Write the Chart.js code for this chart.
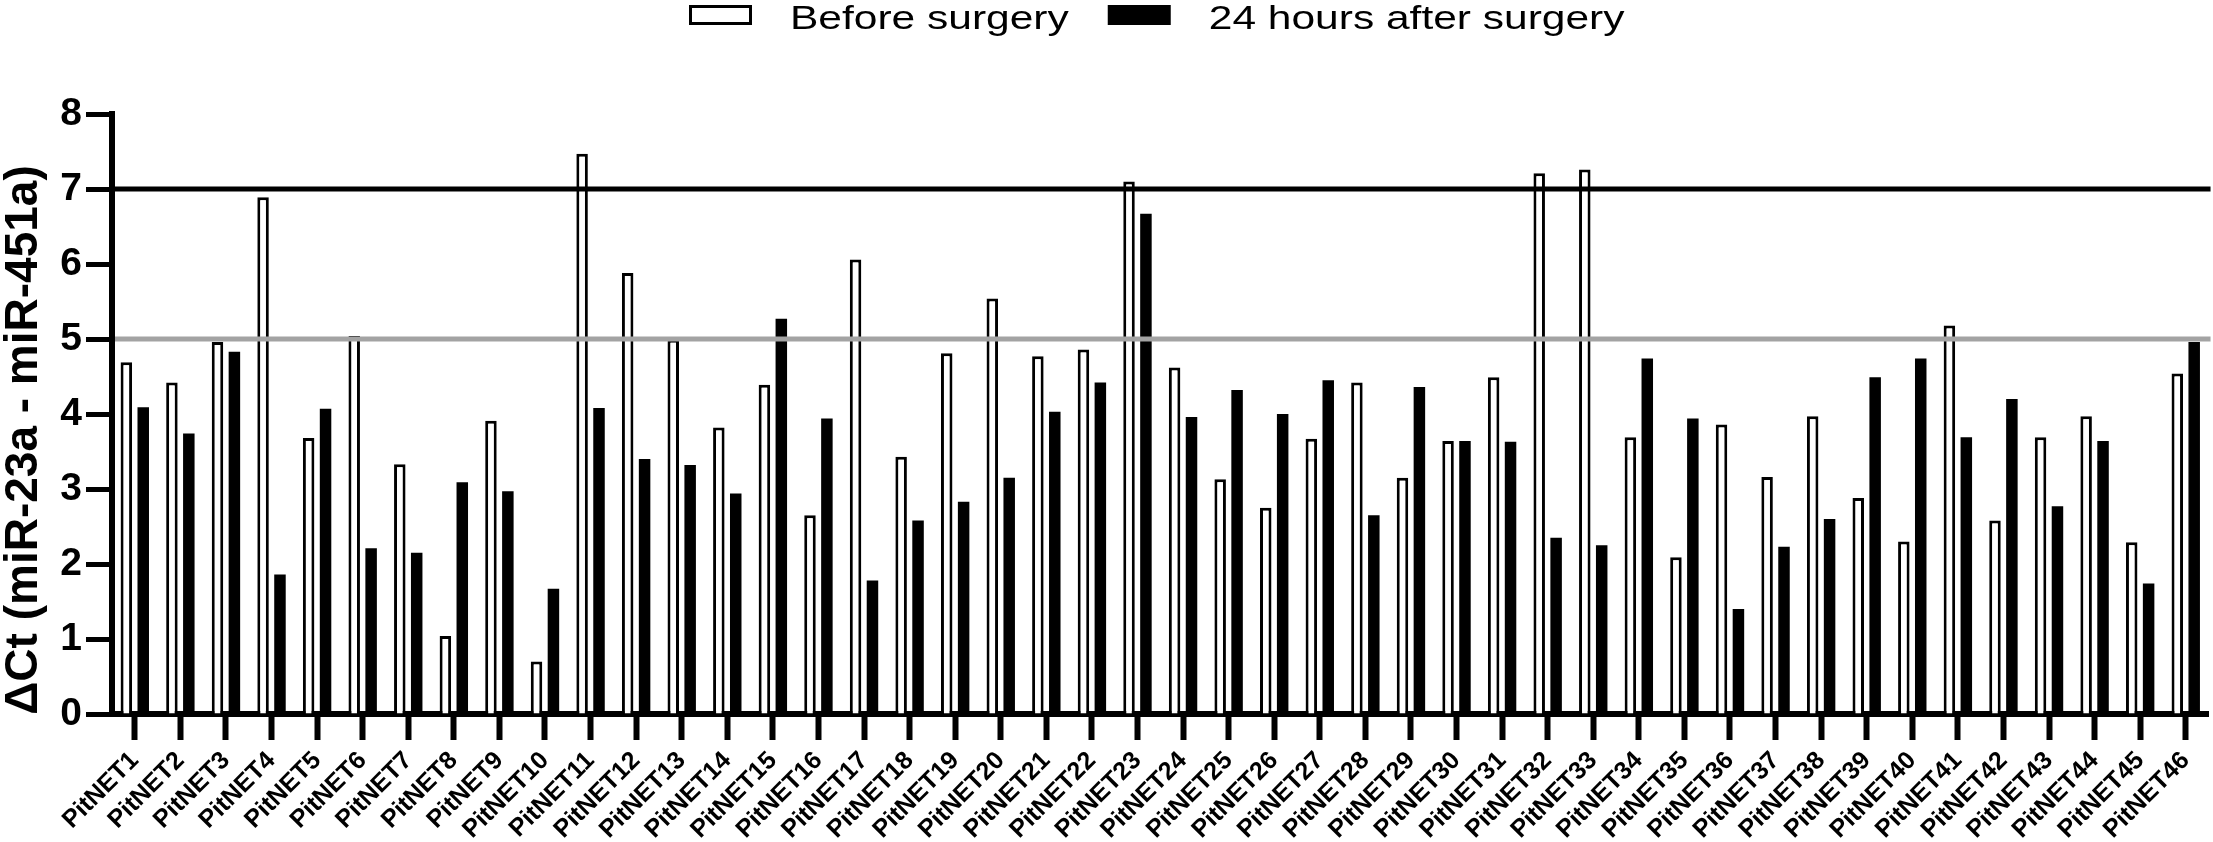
<!DOCTYPE html>
<html>
<head>
<meta charset="utf-8">
<script src="https://cdn.jsdelivr.net/npm/chart.js@4.4.0/dist/chart.umd.min.js"></script>
<style>
  html, body { margin: 0; padding: 0; background: #fff; }
  #wrap { width: 2213px; height: 842px; }
</style>
</head>
<body>
<div id="wrap"><canvas id="chart" width="2213" height="842"></canvas></div>
<script>
'use strict'

var categories = ['PitNET1', 'PitNET2', 'PitNET3', 'PitNET4', 'PitNET5', 'PitNET6', 'PitNET7', 'PitNET8', 'PitNET9', 'PitNET10',
  'PitNET11', 'PitNET12', 'PitNET13', 'PitNET14', 'PitNET15', 'PitNET16', 'PitNET17', 'PitNET18', 'PitNET19', 'PitNET20',
  'PitNET21', 'PitNET22', 'PitNET23', 'PitNET24', 'PitNET25', 'PitNET26', 'PitNET27', 'PitNET28', 'PitNET29', 'PitNET30',
  'PitNET31', 'PitNET32', 'PitNET33', 'PitNET34', 'PitNET35', 'PitNET36', 'PitNET37', 'PitNET38', 'PitNET39', 'PitNET40',
  'PitNET41', 'PitNET42', 'PitNET43', 'PitNET44', 'PitNET45', 'PitNET46'];

var beforeSurgery = [4.69, 4.42, 4.96, 6.89, 3.68, 5.04, 3.33, 1.04, 3.91, 0.70,
  7.47, 5.88, 4.99, 3.82, 4.39, 2.65, 6.06, 3.43, 4.81, 5.54,
  4.77, 4.86, 7.10, 4.62, 3.13, 2.75, 3.67, 4.42, 3.15, 3.64,
  4.49, 7.21, 7.26, 3.69, 2.09, 3.86, 3.16, 3.97, 2.88, 2.30,
  5.18, 2.58, 3.69, 3.97, 2.29, 4.54];

var afterSurgery = [4.09, 3.74, 4.83, 1.86, 4.07, 2.21, 2.15, 3.09, 2.97, 1.67,
  4.08, 3.40, 3.32, 2.94, 5.27, 3.94, 1.78, 2.58, 2.83, 3.15,
  4.03, 4.42, 6.67, 3.96, 4.32, 4.00, 4.45, 2.65, 4.36, 3.64,
  3.63, 2.35, 2.25, 4.74, 3.94, 1.40, 2.23, 2.60, 4.49, 4.74,
  3.69, 4.20, 2.77, 3.64, 1.74, 4.96];

// horizontal cut-off lines
var refLines = [7, 5];
var refColors = ['#000000', '#a3a3a3'];

var yTitle = 'ΔCt (miR-23a - miR-451a)';

var fontFamily = '"Liberation Sans", Arial, Helvetica, sans-serif';

// lines are drawn on top of the bars
var refLinePlugin = {
  id: 'refLines',
  afterDatasetsDraw: function(chart) {
    var ctx = chart.ctx;
    var area = chart.chartArea;
    var yScale = chart.scales.y;
    ctx.save();
    ctx.lineWidth = 5;
    for (var i = 0; i < refLines.length; i++) {
      var py = yScale.getPixelForValue(refLines[i]);
      ctx.strokeStyle = refColors[i];
      ctx.beginPath();
      ctx.moveTo(area.left + 3, py);
      ctx.lineTo(area.right + 2, py);
      ctx.stroke();
    }
    ctx.restore();
  }
};

// y title sits a little below the middle of the axis in the figure
var yTitlePlugin = {
  id: 'yTitle',
  afterDraw: function(chart) {
    var ctx = chart.ctx;
    var area = chart.chartArea;
    ctx.save();
    ctx.translate(24, (area.top + area.bottom) / 2 + 26);
    ctx.rotate(-Math.PI / 2);
    ctx.font = 'bold 46px ' + fontFamily;
    ctx.textAlign = 'center';
    ctx.textBaseline = 'middle';
    ctx.fillStyle = '#000';
    ctx.fillText(yTitle, 0, 0);
    ctx.restore();
  }
};

// legend at the top, text a bit wider like in the figure
var topLegend = {
  id: 'topLegend',
  afterDraw: function(chart) {
    var ctx = chart.ctx;
    var x = 689;
    ctx.save();
    ctx.font = '34px ' + fontFamily;
    ctx.textBaseline = 'alphabetic';
    chart.data.datasets.forEach(function(ds) {
      ctx.fillStyle = ds.backgroundColor;
      ctx.fillRect(x, 5, 63, 20);
      if (ds.borderWidth) {
        ctx.lineWidth = 3;
        ctx.strokeStyle = ds.borderColor;
        ctx.strokeRect(x + 1.5, 6.5, 60, 17);
      }
      var tx = x + 101;
      var w = ctx.measureText(ds.label).width * 1.25;
      ctx.save();
      ctx.translate(tx, 29);
      ctx.scale(1.25, 1);
      ctx.fillStyle = '#000';
      ctx.fillText(ds.label, 0, 0);
      ctx.restore();
      x = tx + w + 39;
    });
    ctx.restore();
  }
};

var ctx = document.getElementById('chart').getContext('2d');

var chart = new Chart(ctx, {
  type: 'bar',
  data: {
    labels: categories,
    datasets: [{
      label: 'Before surgery',
      data: beforeSurgery,
      backgroundColor: '#ffffff',
      borderColor: '#000000',
      borderWidth: 3,
      borderSkipped: 'start'
    }, {
      label: '24 hours after surgery',
      data: afterSurgery,
      backgroundColor: '#000000',
      borderWidth: 0
    }]
  },
  options: {
    responsive: false,
    animation: false,
    categoryPercentage: 0.742,
    barPercentage: 0.68,
    layout: {
      padding: { top: 114, right: 4, left: 0, bottom: 0 }
    },
    plugins: {
      legend: { display: false },
      tooltip: { enabled: false }
    },
    scales: {
      x: {
        offset: true,
        grid: { offset: false, drawOnChartArea: false, tickLength: 26, tickWidth: 6, tickColor: '#000' },
        border: { display: true, width: 6, color: '#000' },
        ticks: {
          autoSkip: false,
          minRotation: 45,
          maxRotation: 45,
          padding: 6,
          color: '#000',
          font: { family: fontFamily, size: 25, weight: 'bold' }
        },
        afterFit: function(scale) { scale.height = 128; }
      },
      y: {
        min: 0,
        max: 8,
        ticks: {
          stepSize: 1,
          padding: 4,
          color: '#000',
          font: { family: fontFamily, size: 39, weight: 'bold' }
        },
        grid: { drawOnChartArea: false, tickLength: 26, tickWidth: 5, tickColor: '#000' },
        border: { display: true, width: 6, color: '#000' },
        afterFit: function(scale) { scale.width = 112; }
      }
    }
  },
  plugins: [refLinePlugin, yTitlePlugin, topLegend]
});
</script>
</body>
</html>
